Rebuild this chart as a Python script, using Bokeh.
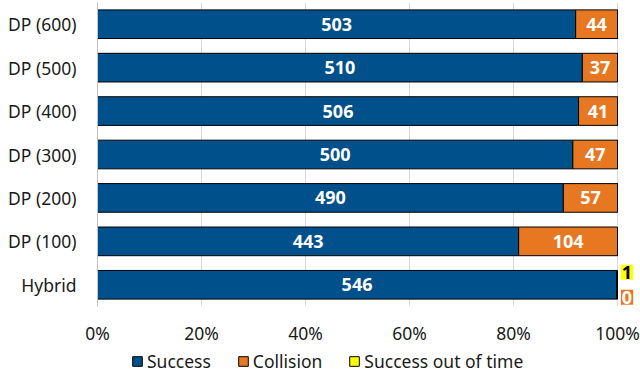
import numpy as np
from bokeh.plotting import figure
from bokeh.layouts import column
from bokeh.models import (ColumnDataSource, LabelSet, Legend, LegendItem,
                          FactorRange, FixedTicker, NumeralTickFormatter, Range1d)
from bokeh.embed import file_html
from bokeh.resources import INLINE
from bokeh.core.properties import value

# ---- data (bottom to top) ----
categories = ["Hybrid", "DP (100)", "DP (200)", "DP (300)", "DP (400)", "DP (500)", "DP (600)"]
success = [546, 443, 490, 500, 506, 510, 503]
collision = [0, 104, 57, 47, 41, 37, 44]
out_of_time = [1, 0, 0, 0, 0, 0, 0]
series_names = ["Success", "Collision", "Success out of time"]
x_ticks = [0, 0.2, 0.4, 0.6, 0.8, 1.0]

FONT = "Noto Sans"
BLUE = "#00508C"
ORANGE = "#E87722"
YELLOW = "#FFFF00"
TXT = "#1a1a1a"
FS = "17.5px"

s = np.array(success, dtype=float)
c = np.array(collision, dtype=float)
o = np.array(out_of_time, dtype=float)
tot = s + c + o
s_end = s / tot
c_end = (s + c) / tot
o_end = (s + c + o) / tot

src = ColumnDataSource(dict(
    cat=categories, s0=[0.0] * len(categories), s1=s_end, c1=c_end, o1=o_end,
    s_mid=s_end / 2, s_txt=[str(v) for v in success],
))

p = figure(y_range=FactorRange(*categories), x_range=(0, 1.0442),
           width=640, height=347,
           min_border_left=97, min_border_right=0, min_border_top=2, min_border_bottom=40,
           output_backend="svg", toolbar_location=None)

H = 0.66
glyph_styles = [dict(fill_color=BLUE), dict(fill_color=ORANGE), dict(fill_color=YELLOW)]
r_s = p.hbar(y="cat", left="s0", right="s1", height=H, source=src,
             line_color="black", line_width=1, **glyph_styles[0])
r_c = p.hbar(y="cat", left="s1", right="c1", height=H, source=src,
             line_color="black", line_width=1, **glyph_styles[1])
r_o = p.hbar(y="cat", left="c1", right="o1", height=H, source=src,
             line_color="black", line_width=1, **glyph_styles[2])

LBL = dict(text_font=value(FONT), text_font_style="bold", text_font_size="18px",
           text_baseline="middle")

# labels inside bars
p.text(x="s_mid", y="cat", text="s_txt", source=src, text_align="center",
       text_color="white", **LBL)
mask = [i for i, v in enumerate(collision) if v > 0]
src_c = ColumnDataSource(dict(
    cat=[categories[i] for i in mask],
    x=[((s_end + c_end) / 2)[i] for i in mask],
    t=[str(collision[i]) for i in mask]))
p.text(x="x", y="cat", text="t", source=src_c, text_align="center",
       text_color="white", **LBL)

# labels outside the bar for Hybrid (out of time above, collision below)
hyb = [i for i, v in enumerate(out_of_time) if v > 0]
src_o = ColumnDataSource(dict(cat=[categories[i] for i in hyb],
                              x=[o_end[i] for i in hyb],
                              t=[str(out_of_time[i]) for i in hyb]))
src_h = ColumnDataSource(dict(cat=[categories[i] for i in hyb],
                              x=[o_end[i] for i in hyb],
                              t=[str(collision[i]) for i in hyb]))
try:
    p.text(x="x", y="cat", text="t", source=src_o, x_offset=9.5, y_offset=-12.5,
           text_align="center", text_color="black", background_fill_color=YELLOW,
           padding=1, **LBL)
    p.text(x="x", y="cat", text="t", source=src_h, x_offset=9.5, y_offset=12.5,
           text_align="center", text_color="white", background_fill_color=ORANGE,
           padding=1, **LBL)
except Exception:
    p.add_layout(LabelSet(x="x", y="cat", text="t", source=src_o, x_offset=5, y_offset=12,
                          text_align="left", text_color="black", text_font_size="18px",
                          background_fill_color=YELLOW, text_baseline="middle"))
    p.add_layout(LabelSet(x="x", y="cat", text="t", source=src_h, x_offset=5, y_offset=-12,
                          text_align="left", text_color="white", text_font_size="18px",
                          background_fill_color=ORANGE, text_baseline="middle"))

# axes
p.xaxis.ticker = FixedTicker(ticks=x_ticks)
p.xaxis.formatter = NumeralTickFormatter(format="0%")
p.xaxis.axis_line_color = None
p.xaxis.major_tick_line_color = None
p.xaxis.minor_tick_line_color = None
p.xaxis.major_label_text_font = FONT
p.xaxis.major_label_text_font_size = FS
p.xaxis.major_label_text_color = TXT
p.xaxis.major_label_standoff = 8

p.yaxis.axis_line_color = "#BFBFBF"
p.yaxis.major_tick_line_color = None
p.yaxis.minor_tick_line_color = None
p.yaxis.major_label_text_font = FONT
p.yaxis.major_label_text_font_size = FS
p.yaxis.major_label_text_color = TXT
p.yaxis.major_label_standoff = 15

p.xgrid.ticker = FixedTicker(ticks=x_ticks)
p.xgrid.grid_line_color = "#D9D9D9"
p.ygrid.grid_line_color = None
p.outline_line_color = None

# legend strip below the chart (swatch renderers sit outside the visible range)
p2 = figure(width=640, height=28, x_range=Range1d(0, 1), y_range=Range1d(0, 1),
            min_border=0, output_backend="svg", toolbar_location=None)
p2.axis.visible = False
p2.grid.grid_line_color = None
p2.outline_line_color = None
leg_r = [p2.hbar(y=[-5], left=[-5], right=[-4], height=1, line_color="black",
                 line_width=1, **st) for st in glyph_styles]
legend = Legend(items=[LegendItem(label=n, renderers=[r]) for n, r in zip(series_names, leg_r)],
                orientation="horizontal", location=(34, 2),
                label_text_font=FONT, label_text_font_size=FS,
                label_text_color=TXT, glyph_width=12, glyph_height=12,
                label_standoff=4, spacing=26, padding=0, margin=0,
                border_line_color=None, background_fill_alpha=0)
p2.add_layout(legend, "center")

open("out.html", "w").write(file_html(column(p, p2, spacing=0), INLINE))
